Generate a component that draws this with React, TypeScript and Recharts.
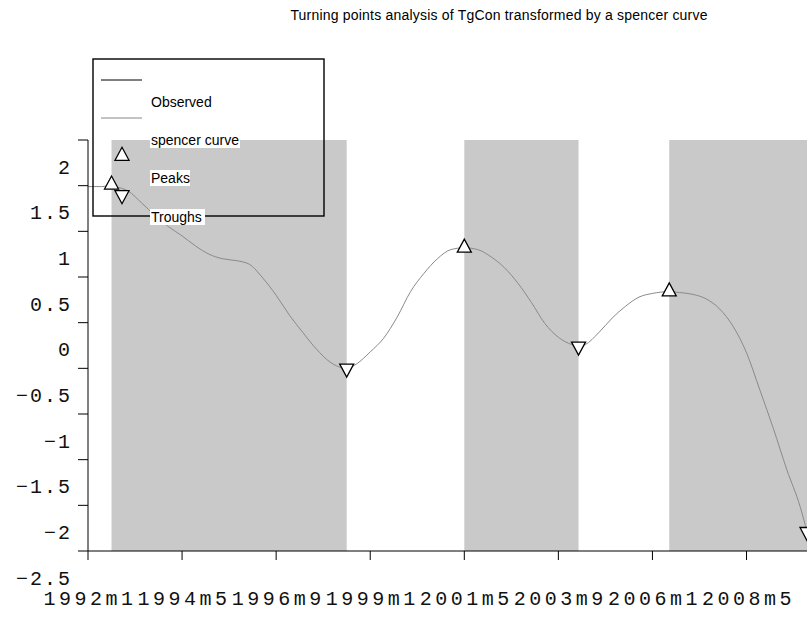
import React from "react";
import {
  ComposedChart,
  Line,
  Scatter,
  XAxis,
  YAxis,
  ReferenceArea,
} from "recharts";

// months since 1992m1 and the spencer curve
const months = [
  0, 4, 7, 8, 12, 16, 20, 24, 28, 32, 36, 40, 44, 48, 52, 56, 60, 64, 68, 72,
  77, 80, 84, 88, 92, 96, 100, 104, 108, 112, 116, 120, 124, 128, 132, 136,
  140, 144, 146, 148, 152, 156, 160, 164, 168, 173, 176, 180, 184, 188, 192,
  196, 200, 204, 208, 212, 214,
];
const spencer = [
  1.49, 1.49, 1.5, 1.49, 1.44, 1.31, 1.17, 1.05, 0.95, 0.84, 0.75, 0.7, 0.68,
  0.64, 0.49, 0.3, 0.08, -0.11, -0.29, -0.43, -0.5, -0.45, -0.32, -0.17, 0.06,
  0.34, 0.54, 0.7, 0.8, 0.82, 0.8, 0.72, 0.6, 0.43, 0.22, -0.01, -0.16, -0.24,
  -0.26, -0.24, -0.11, 0.05, 0.18, 0.28, 0.32, 0.34, 0.33, 0.31, 0.26, 0.15,
  -0.04, -0.33, -0.74, -1.16, -1.61, -2.02, -2.29,
];

const peakMonths = [7, 112, 173];
const peakValues = [1.51, 0.82, 0.34];
const troughMonths = [77, 146, 214];
const troughValues = [-0.5, -0.26, -2.29];

// shaded peak -> trough spells
const bandStart = [7, 112, 173];
const bandEnd = [77, 146, 214];

const xTicks = [0, 28, 56, 84, 112, 140, 168, 196];
const xTickLabels = [
  "1992m1",
  "1994m5",
  "1996m9",
  "1999m1",
  "2001m5",
  "2003m9",
  "2006m1",
  "2008m5",
];
const yTicks = [-2.5, -2, -1.5, -1, -0.5, 0, 0.5, 1, 1.5, 2];
const yTickLabels = [
  "\u22122.5",
  "\u22122",
  "\u22121.5",
  "\u22121",
  "\u22120.5",
  "0",
  "0.5",
  "1",
  "1.5",
  "2",
];

const title = "Turning points analysis of TgCon transformed by a spencer curve";
const legendLabels = ["Observed", "spencer curve", "Peaks", "Troughs"];

const curveData = months.map((m, i) => ({ m, v: spencer[i] }));
const peakData = peakMonths.map((m, i) => ({ m, v: peakValues[i] }));
const troughData = troughMonths.map((m, i) => ({ m, v: troughValues[i] }));

const mono = "'Liberation Mono', 'DejaVu Sans Mono', monospace";
const sans = "'Liberation Sans', Arial, sans-serif";

const triUp = (cx: number, cy: number) =>
  `${cx - 7},${cy + 4.3} ${cx + 7},${cy + 4.3} ${cx},${cy - 8.7}`;
const triDown = (cx: number, cy: number) =>
  `${cx - 7},${cy - 4.3} ${cx + 7},${cy - 4.3} ${cx},${cy + 8.7}`;

const PeakShape = (props: any) => (
  <polygon
    points={triUp(props.cx, props.cy)}
    fill="#fff"
    stroke="#000"
    strokeWidth={1.3}
  />
);
const TroughShape = (props: any) => (
  <polygon
    points={triDown(props.cx, props.cy)}
    fill="#fff"
    stroke="#000"
    strokeWidth={1.3}
  />
);

const YTick = (props: any) => {
  const { x, y, payload } = props;
  const idx = yTicks.indexOf(payload.value);
  return (
    <text
      x={x - 6}
      y={y + 28}
      textAnchor="end"
      dominantBaseline="central"
      fontFamily={mono}
      fontSize={20}
      letterSpacing={2}
      fill="#111"
    >
      {yTickLabels[idx]}
    </text>
  );
};

const XTick = (props: any) => {
  const { x, y, payload } = props;
  const idx = xTicks.indexOf(payload.value);
  return (
    <text
      x={x + 2}
      y={y + 39}
      textAnchor="middle"
      dominantBaseline="central"
      fontFamily={mono}
      fontSize={20}
      letterSpacing={3.5}
      fill="#111"
    >
      {xTickLabels[idx]}
    </text>
  );
};

// legend rows: symbol y position, label sits a bit lower like the original
const rowY = [80, 118, 156, 195];
const labelW = [62, 90, 40, 55];

const Overlay = () => (
  <svg
    width={807}
    height={620}
    style={{ position: "absolute", left: 0, top: 0, pointerEvents: "none" }}
  >
    <text
      x={499}
      y={15}
      textAnchor="middle"
      dominantBaseline="central"
      fontFamily={sans}
      fontSize={14}
      letterSpacing={0.2}
      fill="#000"
    >
      {title}
    </text>
    <rect x={93} y={59} width={231} height={157} fill="none" stroke="#000" strokeWidth={1.4} />
    <line x1={101} x2={142} y1={rowY[0]} y2={rowY[0]} stroke="#000" strokeWidth={1} />
    <line x1={101} x2={142} y1={rowY[1]} y2={rowY[1]} stroke="#888" strokeWidth={1} />
    <polygon points={triUp(122, rowY[2])} fill="#fff" stroke="#000" strokeWidth={1.3} />
    <polygon points={triDown(122, rowY[3])} fill="#fff" stroke="#000" strokeWidth={1.3} />
    {legendLabels.map((lab, i) => (
      <g key={lab}>
        <rect x={150} y={rowY[i] + 14} width={labelW[i]} height={16} fill="#fff" />
        <text
          x={151}
          y={rowY[i] + 22}
          dominantBaseline="central"
          fontFamily={sans}
          fontSize={14}
          fill="#000"
        >
          {lab}
        </text>
      </g>
    ))}
  </svg>
);

export default function App() {
  return (
    <div style={{ position: "relative", width: 807, height: 620, background: "#fff" }}>
      <style>{"body{margin:0;overflow:hidden}"}</style>
      <ComposedChart
        width={807}
        height={620}
        data={curveData}
        margin={{ top: 140, right: 0, bottom: 0, left: 0 }}
      >
        <XAxis
          dataKey="m"
          type="number"
          domain={[0, 214]}
          ticks={xTicks}
          interval={0}
          height={69}
          tickSize={9}
          tickMargin={0}
          stroke="#000"
          tick={<XTick />}
        />
        <YAxis
          type="number"
          domain={[-2.5, 2]}
          ticks={yTicks}
          interval={0}
          width={88}
          tickSize={10}
          tickMargin={0}
          stroke="#000"
          tick={<YTick />}
        />
        {bandStart.map((s, i) => (
          <ReferenceArea
            key={s}
            x1={s}
            x2={bandEnd[i]}
            y1={-2.5}
            y2={2}
            fill="#c9c9c9"
            fillOpacity={1}
            stroke="none"
          />
        ))}
        <Line
          type="monotone"
          dataKey="v"
          stroke="#8a8a8a"
          strokeWidth={1}
          dot={false}
          isAnimationActive={false}
        />
        <Scatter
          data={peakData}
          dataKey="v"
          shape={<PeakShape />}
          isAnimationActive={false}
        />
        <Scatter
          data={troughData}
          dataKey="v"
          shape={<TroughShape />}
          isAnimationActive={false}
        />
      </ComposedChart>
      <Overlay />
    </div>
  );
}
